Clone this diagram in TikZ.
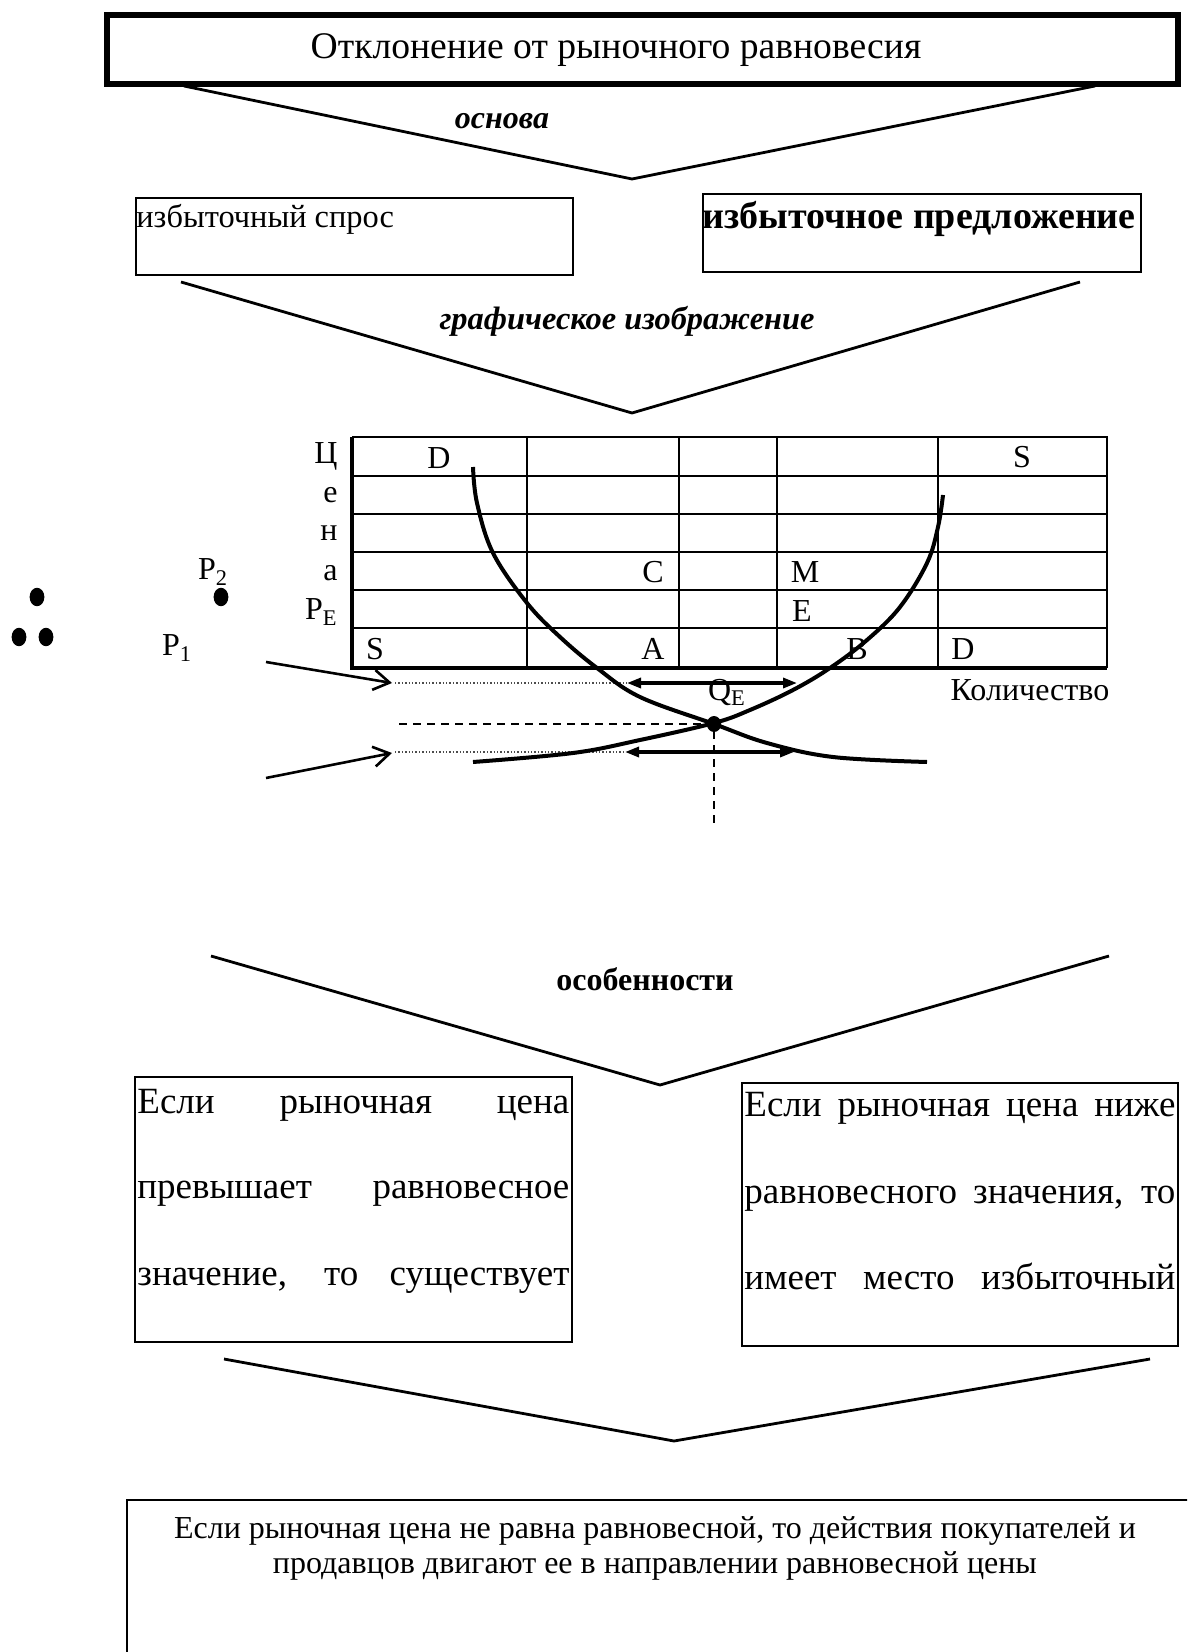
\documentclass[tikz,border=0pt]{standalone}
\usepackage{fontspec}
\setmainfont{Liberation Serif}
\usetikzlibrary{arrows.meta}
\begin{document}
\begin{tikzpicture}[x=0.5pt,y=-0.5pt,
  vee/.style={line width=1.4pt},
  box/.style={draw, line width=0.9pt, inner sep=0pt},
  gridline/.style={line width=1.3pt},
  axisline/.style={line width=2.2pt},
  curve/.style={line width=2pt},
  lbl/.style={font=\fontsize{16}{19}\selectfont, inner sep=0pt},
  big/.style={font=\fontsize{18.5}{22}\selectfont, inner sep=0pt, anchor=base west},
  mid/.style={font=\fontsize{16}{19}\selectfont, inner sep=0pt},
  dbl/.style={line width=1.6pt, {Triangle[length=7pt,width=5pt]}-{Triangle[length=7pt,width=5pt]}},
  barb/.style={line width=1.3pt, -{Straight Barb[length=8pt,width=10pt]}},
  dot/.style={fill=black}
]
\useasboundingbox (0,0) rectangle (1187,1652);
\clip (0,0) rectangle (1187,1652);

% title
\node (titlebox) [draw, line width=3pt, minimum width=535.5pt, minimum height=34.5pt, inner sep=0pt] at (642.5,50) {};
\node (title) [font=\fontsize{18.8}{23}\selectfont, inner sep=0pt] at (616,50) {Отклонение от рыночного равновесия};

% V1
\coordinate (v1l) at (184,86); \coordinate (v1m) at (632,179); \coordinate (v1r) at (1095,86);
\draw[vee] (v1l) -- (v1m) -- (v1r);
\node (osnova) [font=\bfseries\itshape\fontsize{16}{20}\selectfont, inner sep=0pt] at (502,121) {основа};

% boxes row 1
\node (boxL1) [box, anchor=north west, minimum width=218.5pt, minimum height=38.5pt] at (135,197) {};
\node (tL1) [anchor=west, font=\fontsize{16.2}{20}\selectfont, inner sep=0pt] at (136,219) {избыточный спрос};
\node (boxR1) [box, anchor=north west, minimum width=219pt, minimum height=39pt] at (702,193) {};
\node (tR1) [font=\bfseries\fontsize{19}{23}\selectfont, inner sep=0pt] at (919,219) {избыточное предложение};

% V2
\coordinate (v2l) at (181,282); \coordinate (v2m) at (632,413); \coordinate (v2r) at (1080,282);
\draw[vee] (v2l) -- (v2m) -- (v2r);
\node (graf) [font=\bfseries\itshape\fontsize{16.2}{20}\selectfont, inner sep=0pt] at (627,321) {графическое изображение};

% table
\draw[gridline] (352,437) -- (1107,437) -- (1107,668);
\foreach \yy in {476,514,552,590,628} \draw[gridline] (352,\yy) -- (1107,\yy);
\foreach \xx in {527,679,777,938} \draw[gridline] (\xx,437) -- (\xx,668);
\draw[axisline] (352,437) -- (352,668) -- (1107,668);

% axis labels
\node (c1) [lbl, anchor=east] at (338,456) {Ц};
\node (c2) [lbl, anchor=east] at (338,495) {е};
\node (c3) [lbl, anchor=east] at (338,533) {н};
\node (c4) [lbl, anchor=east] at (338,573) {а};
\node (pe) [lbl, anchor=east] at (338,612) {P\textsubscript{E}};
\node (dtop) [lbl] at (439,458) {D};
\node (stop) [lbl] at (1022,457) {S};
\node (lc) [lbl] at (653,572) {C};
\node (lm) [lbl] at (805,572) {M};
\node (le) [lbl] at (802,611) {E};
\node (sbot) [lbl] at (375,649) {S};
\node (la) [lbl] at (653,649) {A};
\node (lb) [lbl] at (857,649) {B};
\node (dbot) [lbl] at (963,649) {D};
\node (qty) [lbl] at (1030,690) {Количество};
\node (p2) [lbl] at (213,572) {P\textsubscript{2}};
\node (p1) [lbl] at (177,648) {P\textsubscript{1}};
\node (qe) [lbl] at (727,692) {Q\textsubscript{E}};

% dots
\fill[dot] (221,597) ellipse [x radius=3.7pt, y radius=4.6pt];
\fill[dot] (37,597) ellipse [x radius=3.7pt, y radius=4.6pt];
\fill[dot] (19,637) ellipse [x radius=3.7pt, y radius=4.6pt];
\fill[dot] (46,637) ellipse [x radius=3.7pt, y radius=4.6pt];

% guide lines
\coordinate (d1s) at (395,683); \coordinate (d1e) at (627,683);
\coordinate (d2s) at (395,752); \coordinate (d2e) at (625,752);
\draw[densely dotted, line width=0.7pt, black!70] (d1s) -- (d1e);
\draw[densely dotted, line width=0.7pt, black!70] (d2s) -- (d2e);
\coordinate (eq) at (714,724);
\coordinate (hd) at (399,724); \coordinate (vd) at (714,823);
\draw[dashed, dash pattern=on 4pt off 3pt, line width=0.9pt] (hd) -- (eq) -- (vd);

% arrows
\coordinate (a1s) at (266,662); \coordinate (a1e) at (392,683);
\coordinate (a2s) at (266,778); \coordinate (a2e) at (392,753);
\draw[barb] (a1s) -- (a1e);
\draw[barb] (a2s) -- (a2e);
\coordinate (u1) at (627,683); \coordinate (u2) at (797,683);
\coordinate (w1) at (625,752); \coordinate (w2) at (794,752);
\draw[dbl] (u1) -- (u2);
\draw[dbl] (w1) -- (w2);

% curves
\draw[curve] plot[smooth, tension=0.6] coordinates {(473,467) (477,503) (493,553) (527,603) (560,637) (597,668) (640,697) (714,724) (767,743) (833,757) (927,762)};
\draw[curve] plot[smooth, tension=0.6] coordinates {(473,762) (573,753) (640,740) (714,723) (750,710) (793,690) (830,668) (867,640) (900,607) (927,563) (938,527) (943,495)};
\fill (eq) ellipse [x radius=3.6pt, y radius=4pt];

% V3
\coordinate (v3l) at (211,956); \coordinate (v3m) at (660,1085); \coordinate (v3r) at (1109,956);
\draw[vee] (v3l) -- (v3m) -- (v3r);
\node (osob) [font=\bfseries\fontsize{16}{19}\selectfont, inner sep=0pt] at (645,979) {особенности};

% boxes row 2
\node (boxL2) [box, anchor=north west, minimum width=218.5pt, minimum height=132.5pt] at (134,1076) {};
\node (l2a) [big] at (137,1113) {\makebox[216pt][s]{Если рыночная цена}};
\node (l2b) [big] at (137,1198) {\makebox[216pt][s]{превышает равновесное}};
\node (l2c) [big] at (137,1285) {\makebox[216pt][s]{значение, то существует}};
\node (boxR2) [box, anchor=north west, minimum width=218pt, minimum height=131.5pt] at (741,1082) {};
\node (r2a) [big] at (744,1116) {\makebox[215.5pt][s]{Если рыночная цена ниже}};
\node (r2b) [big] at (744,1203) {\makebox[215.5pt][s]{равновесного значения, то}};
\node (r2c) [big] at (744,1289) {\makebox[215.5pt][s]{имеет место избыточный}};

% V4
\coordinate (v4l) at (224,1359); \coordinate (v4m) at (674,1441); \coordinate (v4r) at (1150,1359);
\draw[vee] (v4l) -- (v4m) -- (v4r);

% bottom box
\node (boxB) [box, anchor=north west, minimum width=600pt, minimum height=100pt] at (126,1499) {};
\node (tB1) [mid] at (655,1531) {Если рыночная цена не равна равновесной, то действия покупателей и};
\node (tB2) [mid] at (655,1566) {продавцов двигают ее в направлении равновесной цены};
\end{tikzpicture}
\end{document}
